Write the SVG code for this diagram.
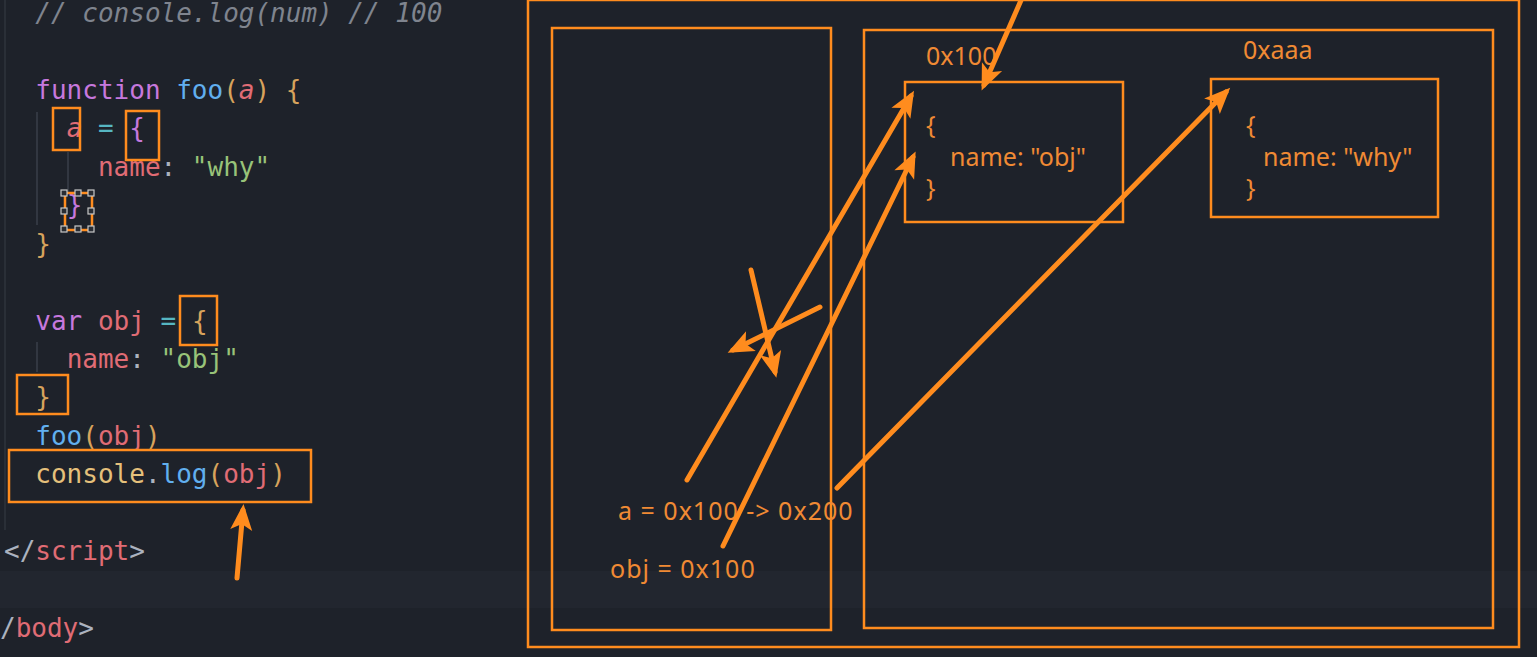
<svg xmlns="http://www.w3.org/2000/svg" width="1537" height="657" viewBox="0 0 1537 657">
<style>
.code{font-family:"DejaVu Sans Mono","Liberation Mono",monospace;font-size:26px;white-space:pre}
.cm{fill:#7f848e;font-style:italic}
.kw{fill:#c678dd}
.fn{fill:#61afef}
.pa{fill:#e06c75;font-style:italic}
.b1{fill:#d7a35c}
.b2{fill:#c678dd}
.op{fill:#56b6c2}
.pr{fill:#e06c75}
.pl{fill:#abb2bf}
.st{fill:#98c379}
.ob{fill:#e5c07b}
.box{fill:none;stroke:#ff8c1e;stroke-width:2.5}
.lbl{font-family:"Noto Sans","Open Sans",sans-serif;font-size:25px;fill:#f08a34}
.wide{letter-spacing:1px}
.arr{fill:none;stroke:#ff8c1e;stroke-width:5;stroke-linecap:round;marker-end:url(#ah)}
.hd{fill:#2a2d33;stroke:#c8c8c8;stroke-width:1.2}
</style>
<defs>
<marker id="ah" markerUnits="userSpaceOnUse" markerWidth="40" markerHeight="40" viewBox="-30 -20 40 40" refX="0" refY="0" orient="auto">
<path d="M6,0 L-20,-11 L-14,0 L-20,11 Z" fill="#ff8c1e"/>
</marker>
</defs>
<rect x="0" y="0" width="1537" height="657" fill="#1e222a"/>
<rect x="0" y="571" width="1537" height="37" fill="#22262f"/>
<g id="code">
<line x1="5" y1="0" x2="5" y2="530" stroke="#2f343d" stroke-width="1.5"/>
<line x1="37" y1="112" x2="37" y2="225" stroke="#3a3f4a" stroke-width="1.5"/>
<line x1="68" y1="152" x2="68" y2="192" stroke="#3a3f4a" stroke-width="1.5"/>
<line x1="37" y1="342" x2="37" y2="372" stroke="#3a3f4a" stroke-width="1.5"/>
<text class="code" x="4" y="22" xml:space="preserve"><tspan class="cm">  // console.log(num) // 100</tspan></text>
<text class="code" x="4" y="99" xml:space="preserve">  <tspan class="kw">function</tspan> <tspan class="fn">foo</tspan><tspan class="b1">(</tspan><tspan class="pa">a</tspan><tspan class="b1">)</tspan> <tspan class="b1">{</tspan></text>
<text class="code" x="4" y="137" xml:space="preserve">    <tspan class="pa">a</tspan> <tspan class="op">=</tspan> <tspan class="b2">{</tspan></text>
<text class="code" x="4" y="176" xml:space="preserve">      <tspan class="pr">name</tspan><tspan class="pl">:</tspan> <tspan class="st">"why"</tspan></text>
<text class="code" x="4" y="214" xml:space="preserve">    <tspan class="b2">}</tspan></text>
<text class="code" x="4" y="253" xml:space="preserve">  <tspan class="b1">}</tspan></text>
<text class="code" x="4" y="330" xml:space="preserve">  <tspan class="kw">var</tspan> <tspan class="pr">obj</tspan> <tspan class="op">=</tspan> <tspan class="b1">{</tspan></text>
<text class="code" x="4" y="368" xml:space="preserve">    <tspan class="pr">name</tspan><tspan class="pl">:</tspan> <tspan class="st">"obj"</tspan></text>
<text class="code" x="4" y="406" xml:space="preserve">  <tspan class="b1">}</tspan></text>
<text class="code" x="4" y="445" xml:space="preserve">  <tspan class="fn">foo</tspan><tspan class="b1">(</tspan><tspan class="pr">obj</tspan><tspan class="b1">)</tspan></text>
<text class="code" x="4" y="483" xml:space="preserve">  <tspan class="ob">console</tspan><tspan class="pl">.</tspan><tspan class="fn">log</tspan><tspan class="b1">(</tspan><tspan class="pr">obj</tspan><tspan class="b1">)</tspan></text>
<text class="code" x="4" y="560" xml:space="preserve"><tspan class="pl">&lt;/</tspan><tspan class="pr">script</tspan><tspan class="pl">&gt;</tspan></text>
<text class="code" x="0" y="637" xml:space="preserve"><tspan class="pl">/</tspan><tspan class="pr">body</tspan><tspan class="pl">&gt;</tspan></text>
</g>
<g id="code-marks">
<rect class="box" x="53" y="108" width="27" height="42"/>
<rect class="box" x="126" y="111" width="33" height="49"/>
<rect class="box" x="65" y="193" width="27" height="37"/>
<rect class="hd" x="61" y="190" width="6" height="6"/>
<rect class="hd" x="75" y="190" width="6" height="6"/>
<rect class="hd" x="88" y="190" width="6" height="6"/>
<rect class="hd" x="61" y="208" width="6" height="6"/>
<rect class="hd" x="88" y="208" width="6" height="6"/>
<rect class="hd" x="61" y="226" width="6" height="6"/>
<rect class="hd" x="75" y="226" width="6" height="6"/>
<rect class="hd" x="88" y="226" width="6" height="6"/>
<rect class="box" x="180" y="296" width="37" height="49"/>
<rect class="box" x="17" y="375" width="51" height="39"/>
<rect class="box" x="9" y="450" width="302" height="52"/>
</g>
<g id="memory">
<rect class="box" x="528" y="0" width="991" height="647"/>
</g>
<g id="stack">
<rect class="box" x="552" y="28" width="279" height="602"/>
<text class="lbl wide" x="618" y="520">a = 0x100 -&gt; 0x200</text>
<text class="lbl wide" x="610" y="578">obj = 0x100</text>
</g>
<g id="heap">
<rect class="box" x="864" y="30" width="629" height="598"/>
</g>
<g id="obj-0x100">
<text class="lbl" x="926" y="65">0x100</text>
<rect class="box" x="905" y="82" width="218" height="140"/>
<text class="lbl" x="926" y="134">{</text>
<text class="lbl" x="950" y="166">name: "obj"</text>
<text class="lbl" x="926" y="197">}</text>
</g>
<g id="obj-0xaaa">
<text class="lbl" x="1243" y="59">0xaaa</text>
<rect class="box" x="1211" y="79" width="227" height="138"/>
<text class="lbl" x="1246" y="134">{</text>
<text class="lbl" x="1263" y="166">name: "why"</text>
<text class="lbl" x="1246" y="197">}</text>
</g>
<g id="connectors">
<line class="arr" x1="237" y1="578" x2="243" y2="510"/>
<line class="arr" x1="1022" y1="-2" x2="984" y2="85"/>
<line class="arr" x1="687" y1="480" x2="911" y2="96"/>
<line class="arr" x1="723" y1="546" x2="913" y2="157"/>
<line class="arr" x1="837" y1="488" x2="1226" y2="92"/>
<line class="arr" x1="820" y1="307" x2="733" y2="350"/>
<line class="arr" x1="751" y1="270" x2="775" y2="372"/>
</g>
</svg>
